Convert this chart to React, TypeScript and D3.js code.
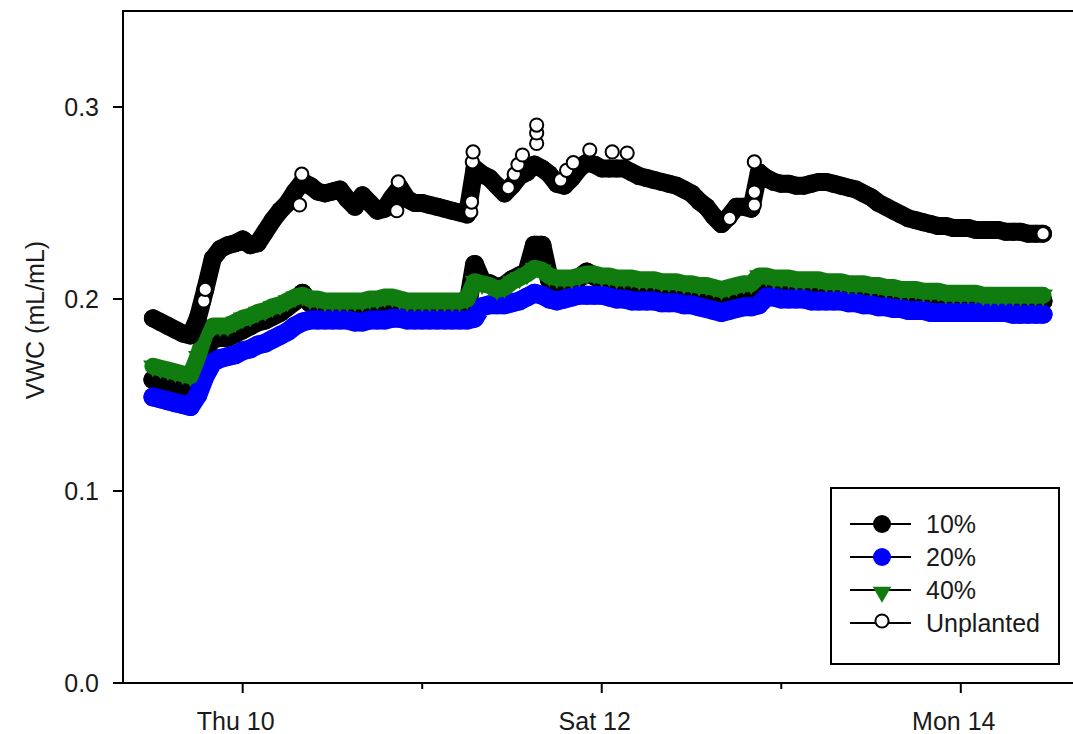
import React from "react";
import * as d3 from "d3";

// ---- data (hourly readings from Wed 9, 12:00 to Mon 14, 11:00) ----
const seriesStart = new Date(2014, 6, 9, 12);

const unplanted = [
  0.190, 0.188, 0.186, 0.184, 0.182, 0.181, 0.190, 0.205, 0.221, 0.226, 0.228, 0.229,
  0.231, 0.228, 0.229, 0.235, 0.241, 0.246, 0.250, 0.256, 0.261, 0.259, 0.256, 0.255,
  0.256, 0.257, 0.252, 0.248, 0.254, 0.250, 0.246, 0.247, 0.253, 0.258, 0.252, 0.250,
  0.250, 0.249, 0.248, 0.247, 0.246, 0.245, 0.244, 0.268, 0.265, 0.263, 0.259, 0.255,
  0.259, 0.264, 0.266, 0.270, 0.268, 0.265, 0.260, 0.259, 0.263, 0.268, 0.271, 0.270,
  0.268, 0.268, 0.268, 0.268, 0.266, 0.264, 0.263, 0.262, 0.261, 0.260, 0.259, 0.257,
  0.255, 0.251, 0.248, 0.243, 0.239, 0.243, 0.248, 0.248, 0.247, 0.266, 0.263, 0.261,
  0.260, 0.260, 0.259, 0.259, 0.260, 0.261, 0.261, 0.260, 0.259, 0.258, 0.257, 0.255,
  0.253, 0.250, 0.248, 0.246, 0.244, 0.242, 0.241, 0.240, 0.239, 0.238, 0.238, 0.237,
  0.237, 0.237, 0.236, 0.236, 0.236, 0.236, 0.235, 0.235, 0.235, 0.234, 0.234, 0.234,
];

const pct40 = [
  0.165, 0.164, 0.163, 0.162, 0.161, 0.160, 0.170, 0.182, 0.186, 0.186, 0.186, 0.188,
  0.190, 0.191, 0.193, 0.194, 0.196, 0.197, 0.199, 0.201, 0.202, 0.200, 0.200, 0.199,
  0.199, 0.199, 0.199, 0.199, 0.199, 0.200, 0.200, 0.201, 0.201, 0.200, 0.199, 0.199,
  0.199, 0.199, 0.199, 0.199, 0.199, 0.199, 0.200, 0.209, 0.208, 0.207, 0.205, 0.206,
  0.209, 0.211, 0.213, 0.216, 0.215, 0.212, 0.211, 0.211, 0.211, 0.212, 0.213, 0.213,
  0.212, 0.212, 0.211, 0.211, 0.211, 0.210, 0.210, 0.210, 0.209, 0.209, 0.209, 0.208,
  0.208, 0.207, 0.207, 0.206, 0.205, 0.206, 0.207, 0.208, 0.208, 0.212, 0.212, 0.211,
  0.211, 0.211, 0.210, 0.210, 0.210, 0.210, 0.209, 0.209, 0.209, 0.208, 0.208, 0.208,
  0.207, 0.207, 0.206, 0.206, 0.205, 0.205, 0.205, 0.204, 0.204, 0.204, 0.203, 0.203,
  0.203, 0.203, 0.203, 0.202, 0.202, 0.202, 0.202, 0.202, 0.202, 0.202, 0.202, 0.202,
];

const pct20 = [
  0.149, 0.148, 0.147, 0.146, 0.145, 0.144, 0.150, 0.160, 0.167, 0.169, 0.170, 0.171,
  0.173, 0.174, 0.176, 0.177, 0.179, 0.181, 0.183, 0.186, 0.188, 0.189, 0.189, 0.189,
  0.189, 0.189, 0.189, 0.188, 0.188, 0.189, 0.189, 0.189, 0.190, 0.190, 0.189, 0.189,
  0.189, 0.189, 0.189, 0.189, 0.189, 0.189, 0.189, 0.190, 0.196, 0.197, 0.197, 0.197,
  0.198, 0.199, 0.201, 0.203, 0.202, 0.200, 0.199, 0.200, 0.201, 0.202, 0.202, 0.202,
  0.202, 0.201, 0.200, 0.200, 0.199, 0.199, 0.199, 0.199, 0.198, 0.198, 0.198, 0.197,
  0.197, 0.196, 0.195, 0.194, 0.193, 0.194, 0.195, 0.196, 0.196, 0.197, 0.201, 0.201,
  0.200, 0.200, 0.200, 0.200, 0.199, 0.199, 0.199, 0.199, 0.199, 0.198, 0.198, 0.197,
  0.197, 0.196, 0.196, 0.195, 0.195, 0.194, 0.194, 0.194, 0.193, 0.193, 0.193, 0.193,
  0.193, 0.193, 0.193, 0.193, 0.193, 0.193, 0.193, 0.192, 0.192, 0.192, 0.192, 0.192,
];

const pct10 = [
  0.158, 0.157, 0.156, 0.155, 0.154, 0.153, 0.162, 0.174, 0.179, 0.180, 0.180, 0.182,
  0.184, 0.186, 0.188, 0.189, 0.191, 0.193, 0.196, 0.199, 0.203, 0.198, 0.197, 0.196,
  0.196, 0.196, 0.196, 0.195, 0.196, 0.196, 0.196, 0.197, 0.197, 0.197, 0.196, 0.196,
  0.196, 0.196, 0.195, 0.195, 0.195, 0.195, 0.195, 0.218, 0.209, 0.208, 0.206, 0.207,
  0.210, 0.212, 0.214, 0.228, 0.228, 0.210, 0.208, 0.208, 0.209, 0.211, 0.214, 0.212,
  0.210, 0.209, 0.208, 0.208, 0.207, 0.207, 0.207, 0.207, 0.206, 0.206, 0.206, 0.205,
  0.205, 0.204, 0.203, 0.202, 0.201, 0.202, 0.203, 0.204, 0.204, 0.209, 0.208, 0.207,
  0.207, 0.206, 0.206, 0.206, 0.205, 0.205, 0.205, 0.205, 0.204, 0.204, 0.204, 0.203,
  0.203, 0.202, 0.202, 0.201, 0.201, 0.200, 0.200, 0.200, 0.199, 0.199, 0.199, 0.199,
  0.199, 0.199, 0.199, 0.199, 0.199, 0.199, 0.199, 0.199, 0.199, 0.199, 0.199, 0.199,
];

// Unplanted readings that stand out as open circles (spikes / jumps), hours after seriesStart
const unplantedOpenHours = [
  6.8, 7.0, 19.6, 19.9, 32.6, 32.8, 42.5, 42.6, 42.7, 42.8, 47.5, 48.3, 48.8, 49.4,
  51.3, 51.3, 51.3, 54.5, 55.3, 56.2, 58.4, 61.4, 63.4, 77.1, 80.4, 80.4, 80.4,
];
const unplantedOpenValues = [
  0.199, 0.205, 0.249, 0.265, 0.246, 0.261, 0.2453, 0.2505, 0.2714, 0.2766, 0.258, 0.265, 0.270, 0.275,
  0.281, 0.2865, 0.2906, 0.262, 0.267, 0.271, 0.2776, 0.2766, 0.276, 0.242, 0.249, 0.2557, 0.2714,
];

const yTicks = [0, 0.1, 0.2, 0.3];
const xMajorTicks = [new Date(2014, 6, 10), new Date(2014, 6, 12), new Date(2014, 6, 14)];
const xMinorTicks = [new Date(2014, 6, 11), new Date(2014, 6, 13)];
const legendLabels = ["10%", "20%", "40%", "Unplanted"];
const yTitle = "VWC (mL/mL)";

const FONT = "'Liberation Sans', Arial, Helvetica, sans-serif";
const C10 = "#000000";
const C20 = "#0000ff";
const C40 = "#107c10";

export default function App() {
  const W = 1073;
  const H = 734;
  const x = d3
    .scaleTime()
    .domain([new Date(2014, 6, 9, 8), new Date(2014, 6, 14, 15)])
    .range([123, 1073]);
  const y = d3.scaleLinear().domain([0, 0.35]).range([683, 11]);
  const times = unplanted.map((_, i) => d3.timeHour.offset(seriesStart, i));
  const line = d3
    .line<number>()
    .x((_, i) => x(times[i]))
    .y((d) => y(d));
  const tri = d3.symbol().type(d3.symbolTriangle).size(165)() as string;
  const triLegend = d3.symbol().type(d3.symbolTriangle).size(150)() as string;
  const fmt = d3.timeFormat("%a %d");
  const R = 9.5;

  const circles = (vals: number[], fill: string, r: number) =>
    vals.map((v, i) => (
      <circle key={i} cx={x(times[i])} cy={y(v)} r={r} fill={fill} />
    ));

  // dense markers overlap into a solid band: draw it with a wide stroke of the same colour
  const band = (vals: number[], color: string, w: number) => (
    <path
      d={line(vals) || ""}
      fill="none"
      stroke={color}
      strokeWidth={w}
      strokeLinejoin="round"
      strokeLinecap="round"
    />
  );

  const lastI = unplanted.length - 1;

  return (
    <svg
      width={W}
      height={H}
      style={{ position: "absolute", left: 0, top: 0, display: "block", background: "#fff" }}
      fontFamily={FONT}
    >
      <rect x={0} y={0} width={W} height={H} fill="#fff" />

      {/* 10% */}
      <g>
        {band(pct10, C10, 19)}
        {circles(pct10, C10, R)}
      </g>
      {/* 20% */}
      <g>
        {band(pct20, C20, 19)}
        {circles(pct20, C20, R)}
      </g>
      {/* 40% */}
      <g>
        {band(pct40, C40, 17)}
        {pct40.map((v, i) => (
          <path
            key={i}
            d={tri}
            fill={C40}
            transform={`translate(${x(times[i])},${y(v)}) rotate(180)`}
          />
        ))}
      </g>
      {/* Unplanted */}
      <g>
        {band(unplanted, "#000", 18)}
        {circles(unplanted, "#000", 9)}
        {unplantedOpenHours.map((h, i) => (
          <circle
            key={"o" + i}
            cx={x(d3.timeMinute.offset(seriesStart, Math.round(h * 60)))}
            cy={y(unplantedOpenValues[i])}
            r={6.6}
            fill="#fff"
            stroke="#000"
            strokeWidth={2}
          />
        ))}
        <circle
          cx={x(times[lastI])}
          cy={y(unplanted[lastI])}
          r={6.6}
          fill="#fff"
          stroke="#000"
          strokeWidth={2}
        />
      </g>

      {/* frame / axes */}
      <line x1={123} y1={11} x2={1073} y2={11} stroke="#000" strokeWidth={2} />
      <line x1={123} y1={10} x2={123} y2={684} stroke="#000" strokeWidth={2} />
      <line x1={122} y1={683} x2={1073} y2={683} stroke="#000" strokeWidth={2} />

      {yTicks.map((t) => (
        <g key={t}>
          <line x1={113} x2={123} y1={y(t)} y2={y(t)} stroke="#000" strokeWidth={2} />
          <text x={99} y={y(t) + 9} textAnchor="end" fontSize={25} fill="#1a1a1a">
            {d3.format(".1f")(t)}
          </text>
        </g>
      ))}

      {xMajorTicks.map((d, i) => (
        <g key={i}>
          <line x1={x(d)} x2={x(d)} y1={683} y2={693} stroke="#000" strokeWidth={2} />
          <text x={x(d) - 7} y={730} textAnchor="middle" fontSize={25} fill="#1a1a1a">
            {fmt(d)}
          </text>
        </g>
      ))}
      {xMinorTicks.map((d, i) => (
        <line key={i} x1={x(d)} x2={x(d)} y1={683} y2={689} stroke="#000" strokeWidth={2} />
      ))}

      <text
        transform="translate(44,320) rotate(-90)"
        textAnchor="middle"
        fontSize={25}
        fill="#1a1a1a"
      >
        {yTitle}
      </text>

      {/* legend */}
      <g>
        <rect x={831} y={488} width={228} height={176} fill="#fff" stroke="#000" strokeWidth={2} />
        {legendLabels.map((lab, i) => {
          const cy = 524 + i * 33;
          return (
            <g key={lab}>
              <line x1={850} x2={911} y1={cy} y2={cy} stroke="#000" strokeWidth={2} />
              {i === 0 && <circle cx={882} cy={cy} r={9} fill={C10} />}
              {i === 1 && <circle cx={882} cy={cy} r={9} fill={C20} />}
              {i === 2 && (
                <path d={triLegend} fill={C40} transform={`translate(882,${cy + 2}) rotate(180)`} />
              )}
              {i === 3 && (
                <circle cx={882} cy={cy - 2} r={6.6} fill="#fff" stroke="#000" strokeWidth={2} />
              )}
              <text x={926} y={cy + 9} fontSize={25} fill="#1a1a1a">
                {lab}
              </text>
            </g>
          );
        })}
      </g>
    </svg>
  );
}
